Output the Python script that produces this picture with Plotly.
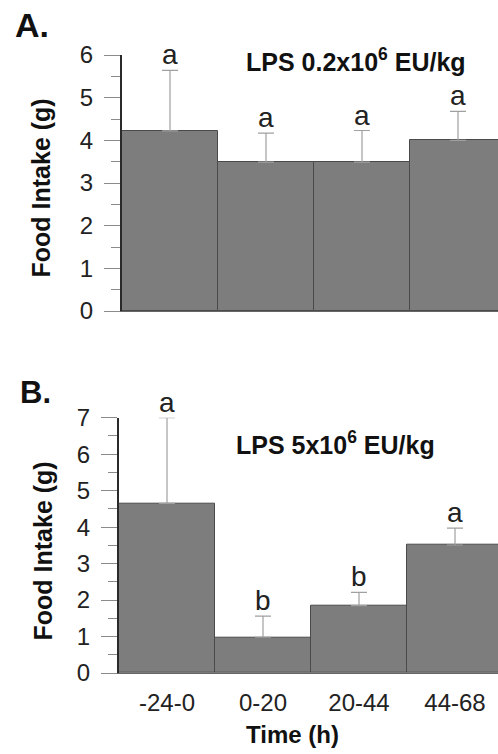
import plotly.graph_objects as go

# ---- data ----
categories = ["-24-0", "0-20", "20-44", "44-68"]
intake_a = [4.22, 3.49, 3.49, 4.00]
err_a = [1.42, 0.68, 0.74, 0.68]
letters_a = ["a", "a", "a", "a"]
intake_b = [4.65, 0.98, 1.85, 3.51]
err_b = [2.35, 0.58, 0.36, 0.46]
letters_b = ["a", "b", "b", "a"]
yticks_a = [0, 1, 2, 3, 4, 5, 6]
yticks_b = [0, 1, 2, 3, 4, 5, 6, 7]

W, H = 498, 754
FONT = "Liberation Sans, Arial, Helvetica, sans-serif"
BAR = "#7d7d7d"
EDGE = "#4a4a4a"
TICKC = "#8a8a8a"
ERRC = "#a0a0a0"


def fx(p):
    return p / W


def fy(p):
    return 1 - p / H


xs = list(range(len(categories)))

fig = go.Figure()
for vals, errs, xa, ya in [(intake_a, err_a, "x", "y"), (intake_b, err_b, "x2", "y2")]:
    fig.add_trace(go.Bar(
        x=xs, y=vals, width=1.0, xaxis=xa, yaxis=ya,
        marker=dict(color=BAR, line=dict(color=EDGE, width=1)),
        error_y=dict(type="data", symmetric=False, array=errs,
                     arrayminus=[0] * len(errs), color=ERRC, thickness=1.2, width=8),
        cliponaxis=False, showlegend=False, hoverinfo="skip",
    ))

yax_common = dict(
    showgrid=False, zeroline=False, showline=True, linecolor="#2a2a2a", linewidth=2,
    ticks="outside", ticklen=16, tickcolor=TICKC, tickwidth=1, automargin=False,
    tickfont=dict(family=FONT, size=24, color="#222"), ticklabelstandoff=6,
    minor=dict(ticks="outside", ticklen=9, dtick=0.5, tick0=0, tickcolor=TICKC, tickwidth=1),
)
xax_common = dict(showgrid=False, zeroline=False, showline=True, linecolor="#666",
                  linewidth=1, ticks="", automargin=False,
                  tickfont=dict(family=FONT, size=24, color="#222"))

fig.update_layout(
    template="none",
    width=W, height=H, margin=dict(l=0, r=0, t=0, b=0, pad=0),
    paper_bgcolor="white", plot_bgcolor="white", bargap=0,
    xaxis=dict(domain=[fx(122), 1], range=[-0.5, 3.5 - 8 / 96], anchor="y",
               showticklabels=False, tickvals=[], **xax_common),
    yaxis=dict(domain=[fy(311), fy(55)], range=[0, 6], tickvals=yticks_a, anchor="x",
               **yax_common),
    xaxis2=dict(domain=[fx(119), 1], range=[-0.5, 3.5 - 5 / 96], anchor="y2",
                tickvals=xs, ticktext=categories, ticklabelstandoff=8, **xax_common),
    yaxis2=dict(domain=[fy(673), fy(417.7)], range=[0, 7], tickvals=yticks_b, anchor="x2",
                **yax_common),
)

ann = []
for vals, errs, lets, xr, yr in [(intake_a, err_a, letters_a, "x", "y"),
                                  (intake_b, err_b, letters_b, "x2", "y2")]:
    for i, (v, e, l) in enumerate(zip(vals, errs, lets)):
        ann.append(dict(x=i, y=v + e, xref=xr, yref=yr, text=l, showarrow=False,
                        xanchor="center", yanchor="bottom", yshift=-2,
                        font=dict(family=FONT, size=28, color="#222")))


def label(x, y, text, size, angle=0):
    return dict(x=fx(x), y=fy(y), xref="paper", yref="paper", text=text, showarrow=False,
                xanchor="center", yanchor="middle", textangle=angle,
                font=dict(family=FONT, size=size, color="#111"))


ann += [
    label(32, 25, "<b>A.</b>", 34),
    label(35, 392, "<b>B.</b>", 31),
    label(356, 60, "<b>LPS 0.2x10<sup>6</sup> EU/kg</b>", 25),
    label(335, 443, "<b>LPS 5x10<sup>6</sup> EU/kg</b>", 25),
    label(40, 188.5, "<b>Food Intake (g)</b>", 25, -90),
    label(42, 551.5, "<b>Food Intake (g)</b>", 25, -90),
    label(292, 734, "<b>Time (h)</b>", 24),
]
fig.update_layout(annotations=ann)

fig.write_html("out.html", config={"displayModeBar": False},
               post_script="document.body.style.margin='0';document.body.style.padding='0';")
